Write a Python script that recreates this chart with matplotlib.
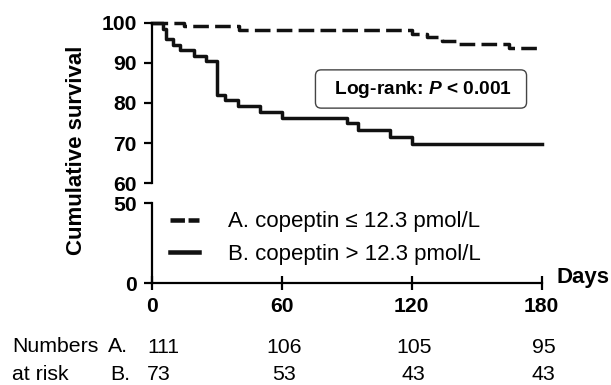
import matplotlib
matplotlib.use("Agg")
import matplotlib.pyplot as plt
import matplotlib.transforms as mtransforms
from matplotlib.lines import Line2D

plt.rcParams['font.family'] = ['Liberation Sans', 'DejaVu Sans']
plt.rcParams['mathtext.fontset'] = 'custom'
plt.rcParams['mathtext.it'] = 'Liberation Sans:italic:bold'

# Kaplan-Meier steps
a_days = [0, 15, 40, 120, 127, 134, 141, 165, 180]
a_surv = [100, 99.1, 98.2, 97.3, 96.4, 95.5, 94.6, 93.7, 93.7]
b_days = [0, 5, 6.5, 9.5, 13, 19.5, 25, 30, 33.5, 39.5, 50, 60, 90, 95, 110, 120, 180]
b_surv = [100, 98.4, 95.9, 94.5, 93.2, 91.8, 90.4, 82.0, 80.7, 79.2, 77.8, 76.3,
          74.9, 73.2, 71.6, 69.9, 69.9]

labels = ['A. copeptin \u2264 12.3 pmol/L', 'B. copeptin > 12.3 pmol/L']
xticks = [0, 60, 120, 180]
upper_ticks = [60, 70, 80, 90, 100]
lower_ticks = [0, 50]
risk_days = [0, 60, 120, 180]
risk_a = [111, 106, 105, 95]
risk_b = [73, 53, 43, 43]

W, H = 611, 385
fig = plt.figure(figsize=(W / 100, H / 100), dpi=100)

left, right = 152 / W, 541.7 / W
ax1 = fig.add_axes([left, 1 - 183.3 / H, right - left, (183.3 - 22.7) / H])
ax2 = fig.add_axes([left, 1 - 283.3 / H, right - left, (283.3 - 203.3) / H])

lw = 2.5
dash = (0, (4.5, 1.8))
ax1.step(a_days, a_surv, where='post', color='#111111', lw=lw,
         linestyle=dash, clip_on=False)
ax1.step(b_days, b_surv, where='post', color='#111111', lw=lw, clip_on=False)

tick_fs = 15.2
for ax in (ax1, ax2):
    ax.set_xlim(0, 180)
    for s in ('top', 'right'):
        ax.spines[s].set_visible(False)
    ax.spines['left'].set_linewidth(1.6)
    ax.spines['bottom'].set_linewidth(1.6)
    ax.tick_params(axis='y', direction='out', length=6, width=1.6, pad=5,
                   labelsize=tick_fs)
    ax.tick_params(axis='y', which='minor', direction='in', length=4, width=1.6)

ax1.set_ylim(60, 100)
ax1.set_yticks(upper_ticks)
ax1.set_yticks([60], minor=True)
ax1.spines['bottom'].set_visible(False)
ax1.set_xticks([])

ax2.set_ylim(0, 50)
ax2.set_yticks(lower_ticks)
ax2.set_yticks([50], minor=True)
ax2.set_xticks(xticks)
ax2.tick_params(axis='x', direction='inout', length=10, width=1.6, pad=5,
                labelsize=tick_fs)
for ax in (ax1, ax2):
    for t in ax.get_yticklabels() + ax.get_xticklabels():
        t.set_fontweight('bold')

fig.text(557 / W, 1 - 277 / H, 'Days', fontsize=16, fontweight='bold',
         ha='left', va='center')
fig.text(77 / W, 1 - 150 / H, 'Cumulative survival', fontsize=16, fontweight='bold',
         rotation=90, ha='center', va='center')

fig.text(421 / W, 1 - 89 / H, '  Log-rank: $P$ < 0.001  ', fontsize=13.8,
         fontweight='bold', ha='center', va='center',
         bbox=dict(boxstyle='round,pad=0.45,rounding_size=0.3', fc='white',
                   ec='#444444', lw=1.0))

handles = [Line2D([], [], color='#111111', lw=lw * 1.3, linestyle=(0, (3.2, 0.8))),
           Line2D([], [], color='#111111', lw=lw * 1.3)]
ax2.legend(handles, labels, loc='upper left', bbox_to_anchor=(170 / W, 1 - 211.5 / H),
           bbox_transform=fig.transFigure, frameon=False, fontsize=16,
           handlelength=1.3, handletextpad=1.3, labelspacing=0.5,
           borderpad=0, borderaxespad=0)

# numbers at risk table
fs = 15.3
fig.text(12 / W, 1 - 352 / H, 'Numbers', fontsize=fs, va='baseline')
fig.text(108 / W, 1 - 352 / H, 'A.', fontsize=fs, va='baseline')
fig.text(12 / W, 1 - 379.5 / H, 'at risk', fontsize=fs, va='baseline')
fig.text(110 / W, 1 - 379.5 / H, 'B.', fontsize=fs, va='baseline')
trans = mtransforms.blended_transform_factory(ax2.transData, fig.transFigure)
for i, d in enumerate(risk_days):
    ha = 'left' if i == 0 else 'center'
    off = mtransforms.ScaledTranslation(-5 / 100 if i == 0 else 2 / 100, 0,
                                        fig.dpi_scale_trans)
    fig.text(d, 1 - 353 / H, str(risk_a[i]), fontsize=fs, va='baseline', ha=ha,
             transform=trans + off)
    fig.text(d, 1 - 379.5 / H, str(risk_b[i]), fontsize=fs, va='baseline', ha=ha,
             transform=trans + off)

fig.savefig('out.png', dpi=100)
